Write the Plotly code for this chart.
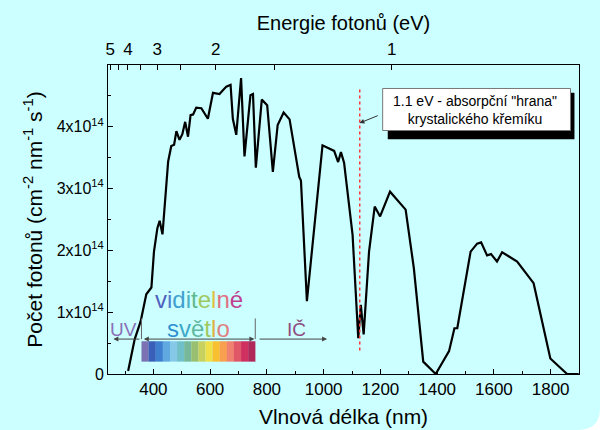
import plotly.graph_objects as go

# ---- data ----
wavelength_nm = [311, 334, 355, 369, 375, 393, 402, 414, 422, 432, 440, 452, 463, 473, 481,
                 492, 502, 512, 522, 531, 540, 551, 569, 592, 610, 633, 645, 657, 672, 680,
                 692, 709, 721, 742, 751, 761, 782, 801, 821, 838, 859, 880, 914, 920, 941,
                 996, 1037, 1051, 1061, 1072, 1102, 1122, 1131, 1141, 1160, 1180, 1199, 1234,
                 1289, 1318, 1351, 1395, 1442, 1461, 1471, 1518, 1541, 1555, 1576, 1590, 1611,
                 1629, 1682, 1740, 1799, 1858, 1899]
photons_e14 = [0.05, 0.56, 0.85, 1.18, 1.29, 1.40, 1.98, 2.36, 2.48, 2.26, 2.68, 3.44, 3.69, 3.71, 3.93,
               3.79, 3.88, 4.08, 3.84, 4.19, 4.20, 4.31, 4.30, 4.13, 4.55, 4.53, 4.59, 4.65, 4.68, 4.13,
               3.87, 4.79, 3.52, 4.51, 4.53, 3.34, 4.44, 4.35, 3.27, 4.03, 4.23, 4.12, 3.19, 3.13, 1.18,
               3.70, 3.61, 3.43, 3.59, 3.42, 2.25, 0.58, 1.12, 0.64, 1.98, 2.71, 2.55, 2.95,
               2.66, 1.71, 0.20, 0.00, 0.37, 0.74, 0.74, 1.98, 2.11, 2.13, 1.92, 1.94, 1.82,
               1.97, 1.82, 1.47, 0.25, 0.00, 0.00]
photons = [v * 1e14 for v in photons_e14]

y_tick_vals = [0, 1e14, 2e14, 3e14, 4e14]
y_tick_text = ["0", "1x10<sup>14</sup>", "2x10<sup>14</sup>", "3x10<sup>14</sup>", "4x10<sup>14</sup>"]
x_tick_vals = [400, 600, 800, 1000, 1200, 1400, 1600, 1800]
energy_ticks_eV = [5, 4.5, 4, 3.5, 3, 2.5, 2, 1.5, 1]
energy_labels = ["5", "", "4", "", "3", "", "2", "", "1"]
si_edge_eV = 1.1
spectrum_colors = ["#7b72b4", "#3a5fb8", "#3f7fd0", "#5fa8e0", "#86c8e8", "#6fc0c8", "#78b89a",
                   "#98c070", "#c8d060", "#f0e048", "#f8c030", "#f8a050", "#f08070", "#e05868",
                   "#d03060", "#b02858"]
vid_letters = ["v", "i", "d", "i", "t", "e", "l", "n", "é"]
vid_colors = ["#4f5fc0", "#4f7fd0", "#3fa0d0", "#4fb0c0", "#60b890", "#a0c860", "#e0c040", "#e07080", "#c04090"]
sv_letters = ["s", "v", "ě", "t", "l", "o"]
sv_colors = ["#3090d0", "#40a8c8", "#60b8a0", "#a0c860", "#e0b040", "#e08080"]

FONT = "Liberation Sans, Arial, sans-serif"
BG = "#ccffff"

fig = go.Figure()
fig.add_trace(go.Scatter(x=wavelength_nm, y=photons, mode="lines",
                         line=dict(color="black", width=2.2), showlegend=False, hoverinfo="skip"))
# invisible trace for the top axis
fig.add_trace(go.Scatter(x=[240, 1900], y=[None, None], xaxis="x2", yaxis="y",
                         mode="lines", showlegend=False, hoverinfo="skip"))

shapes = []
# visible spectrum bar
s0, s1 = 358, 759
n = len(spectrum_colors)
w = (s1 - s0) / n
for i, c in enumerate(spectrum_colors):
    shapes.append(dict(type="rect", xref="x", yref="y", x0=s0 + i * w, x1=s0 + (i + 1) * w + 0.5,
                       y0=0.2e14, y1=0.53e14, fillcolor=c, line=dict(width=0), layer="above"))
# boundary ticks for visible range
for xv in (s0, s1):
    shapes.append(dict(type="line", xref="x", yref="y", x0=xv, x1=xv, y0=0.565e14, y1=0.9e14,
                       line=dict(color="#666666", width=1)))
# silicon edge dotted line
edge_nm = 1240 / si_edge_eV
shapes.append(dict(type="line", xref="x", yref="y", x0=edge_nm, x1=edge_nm, y0=0.38e14, y1=4.61e14,
                   line=dict(color="#ff3a3a", width=1.5, dash="dot")))
# callout box with shadow
shapes.append(dict(type="rect", xref="x", yref="y", x0=1226, x1=1884, y0=3.80e14, y1=4.55e14,
                   fillcolor="black", line=dict(width=0)))
shapes.append(dict(type="rect", xref="x", yref="y", x0=1208, x1=1870, y0=3.94e14, y1=4.62e14,
                   fillcolor="white", line=dict(color="#777777", width=1)))
# rounded corner of picture
shapes.append(dict(type="path", xref="paper", yref="paper",
                   path="M 1.0446,-0.110 Q 1.0446,-0.181 0.9979,-0.181 L 1.0446,-0.181 Z",
                   fillcolor="white", line=dict(width=0)))

annotations = []
annotations.append(dict(x=1533, y=4.28e14, xref="x", yref="y", showarrow=False,
                        text='1.1 eV - absorpční "hrana"<br>krystalického křemíku',
                        font=dict(family=FONT, size=14, color="black"), align="center"))
annotations.append(dict(x=1126, y=4.06e14, ax=1196, ay=4.19e14, xref="x", yref="y",
                        axref="x", ayref="y", text="", showarrow=True, arrowhead=2,
                        arrowsize=1, arrowwidth=1, arrowcolor="#333333"))
# UV / visible / IR arrows
arrow_y = 0.565e14
annotations.append(dict(x=259, y=arrow_y, ax=356, ay=arrow_y, xref="x", yref="y", axref="x", ayref="y",
                        text="", showarrow=True, arrowhead=2, arrowsize=1, arrowwidth=1, arrowcolor="#444444"))
annotations.append(dict(x=756, y=arrow_y, ax=361, ay=arrow_y, xref="x", yref="y", axref="x", ayref="y",
                        text="", showarrow=True, arrowhead=2, startarrowhead=2, arrowside="end+start",
                        arrowsize=1, arrowwidth=1, arrowcolor="#444444"))
annotations.append(dict(x=1012, y=arrow_y, ax=769, ay=arrow_y, xref="x", yref="y", axref="x", ayref="y",
                        text="", showarrow=True, arrowhead=2, arrowsize=1, arrowwidth=1, arrowcolor="#444444"))
annotations.append(dict(x=293, y=0.72e14, xref="x", yref="y", showarrow=False, text="UV",
                        font=dict(family=FONT, size=19, color="#8a70b8")))
annotations.append(dict(x=903, y=0.72e14, xref="x", yref="y", showarrow=False, text="IČ",
                        font=dict(family=FONT, size=19, color="#8e4a7e")))
vid_text = "".join(f'<span style="color:{c}">{l}</span>' for l, c in zip(vid_letters, vid_colors))
sv_text = "".join(f'<span style="color:{c}">{l}</span>' for l, c in zip(sv_letters, sv_colors))
annotations.append(dict(x=560, y=1.20e14, xref="x", yref="y", showarrow=False, text=vid_text,
                        font=dict(family=FONT, size=24)))
annotations.append(dict(x=560, y=0.73e14, xref="x", yref="y", showarrow=False, text=sv_text,
                        font=dict(family=FONT, size=24)))

fig.update_layout(
    width=600, height=430,
    margin=dict(l=108, r=21, t=65, b=56),
    paper_bgcolor=BG, plot_bgcolor=BG,
    font=dict(family=FONT, color="black"),
    shapes=shapes, annotations=annotations,
    xaxis=dict(range=[240, 1900], tickvals=x_tick_vals, ticks="inside", ticklen=5, tickwidth=1,
               tickcolor="black", showline=True, linecolor="black", linewidth=1, mirror=True,
               showgrid=False, zeroline=False, tickfont=dict(size=17), automargin=False,
               minor=dict(dtick=100, tick0=0, ticks="inside", ticklen=3, tickcolor="black", showgrid=False),
               title=dict(text="Vlnová délka (nm)", font=dict(size=21), standoff=10)),
    xaxis2=dict(range=[240, 1900], overlaying="x", side="top", anchor="y",
                tickvals=[1240 / e for e in energy_ticks_eV], ticktext=energy_labels,
                ticks="inside", ticklen=5, tickcolor="black", showline=False, showgrid=False,
                zeroline=False, tickfont=dict(size=17), automargin=False, ticklabelstandoff=6,
                title=dict(text="Energie fotonů (eV)", font=dict(size=20), standoff=3)),
    yaxis=dict(range=[0, 5e14], tickvals=y_tick_vals, ticktext=y_tick_text, ticks="inside",
               ticklen=5, tickcolor="black", showline=True, linecolor="black", linewidth=1,
               mirror=True, showgrid=False, zeroline=False, tickfont=dict(size=16), automargin=False,
               minor=dict(dtick=0.5e14, tick0=0, ticks="inside", ticklen=3, tickcolor="black", showgrid=False),
               title=dict(text="Počet fotonů (cm<sup>-2</sup> nm<sup>-1</sup> s<sup>-1</sup>)",
                          font=dict(size=21), standoff=8)),
)

fig.write_html("out.html", config={"displayModeBar": False},
               post_script="document.body.style.margin='0px';")
